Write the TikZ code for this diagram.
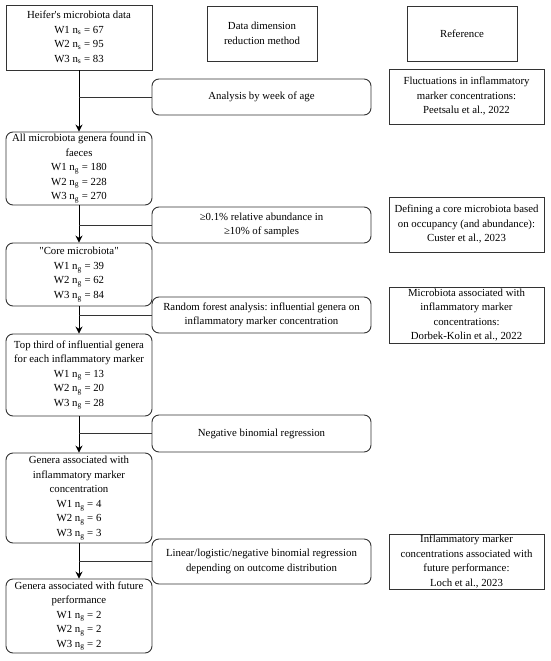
\documentclass[tikz,border=0pt]{standalone}
\usepackage{fontspec}
\setmainfont{Liberation Serif}
\usetikzlibrary{arrows.meta}
\begin{document}
\frenchspacing
\begin{tikzpicture}[x=1pt,y=-1pt,
  every node/.style={font=\fontsize{10.8}{14.5}\selectfont\frenchspacing, align=center, inner sep=0pt},
  sqbox/.style={draw=black!80, line width=0.9pt},
  rbox/.style={draw=black!80, line width=0.9pt, rounded corners=7pt},
  flow/.style={draw=black, line width=0.9pt, -{Stealth[length=7pt,width=7pt]}},
  link/.style={draw=black!80, line width=0.9pt}]
\useasboundingbox (0,0) rectangle (550,661);
% headers
\node[sqbox, minimum width=146pt, minimum height=65pt] (b1) at (79,37.5)
  {Heifer\textquotesingle s microbiota data\\W1 n\textsubscript{s} = 67\\W2 n\textsubscript{s} = 95\\W3 n\textsubscript{s} = 83};
\node[sqbox, minimum width=110pt, minimum height=55pt] (h1) at (262,33.5)
  {Data dimension\\reduction method};
\node[sqbox, minimum width=110pt, minimum height=55pt] (h2) at (462,33.5) {Reference};
% main column
\node[rbox, minimum width=146pt, minimum height=73pt] (b2) at (79,168.5)
  {All microbiota genera found in\\faeces\\W1 n\textsubscript{g} = 180\\W2 n\textsubscript{g} = 228\\W3 n\textsubscript{g} = 270};
\node[rbox, minimum width=146pt, minimum height=63pt] (b3) at (79,274.5)
  {\textquotedbl Core microbiota\textquotedbl\\W1 n\textsubscript{g} = 39\\W2 n\textsubscript{g} = 62\\W3 n\textsubscript{g} = 84};
\node[rbox, minimum width=146pt, minimum height=82pt] (b4) at (79,375)
  {Top third of influential genera\\for each inflammatory marker\\W1 n\textsubscript{g} = 13\\W2 n\textsubscript{g} = 20\\W3 n\textsubscript{g} = 28};
\node[rbox, minimum width=146pt, minimum height=90pt] (b5) at (79,498)
  {Genera associated with\\inflammatory marker\\concentration\\W1 n\textsubscript{g} = 4\\W2 n\textsubscript{g} = 6\\W3 n\textsubscript{g} = 3};
\node[rbox, minimum width=146pt, minimum height=74pt] (b6) at (79,616)
  {Genera associated with future\\performance\\W1 n\textsubscript{g} = 2\\W2 n\textsubscript{g} = 2\\W3 n\textsubscript{g} = 2};
% methods
\node[rbox, minimum width=219pt, minimum height=36pt] (m1) at (261.5,97) {Analysis by week of age};
\node[rbox, minimum width=219pt, minimum height=36pt] (m2) at (261.5,225)
  {≥0.1\% relative abundance in\\≥10\% of samples};
\node[rbox, minimum width=219pt, minimum height=36pt] (m3) at (261.5,315)
  {Random forest analysis: influential genera on\\inflammatory marker concentration};
\node[rbox, minimum width=219pt, minimum height=37pt] (m4) at (261.5,433.5) {Negative binomial regression};
\node[rbox, minimum width=219pt, minimum height=45pt] (m5) at (261.5,561.5)
  {Linear/logistic/negative binomial regression\\depending on outcome distribution};
% references
\node[sqbox, minimum width=155pt, minimum height=55pt] (r1) at (466.5,96.5)
  {Fluctuations in inflammatory\\marker concentrations:\\Peetsalu et al., 2022};
\node[sqbox, minimum width=155pt, minimum height=55pt] (r2) at (466.5,224.5)
  {Defining a core microbiota based\\on occupancy (and abundance):\\Custer et al., 2023};
\node[sqbox, minimum width=155pt, minimum height=56pt] (r3) at (466.5,315)
  {Microbiota associated with\\inflammatory marker\\concentrations:\\Dorbek-Kolin et al., 2022};
\node[sqbox, minimum width=155pt, minimum height=55pt] (r5) at (466.5,561.5)
  {Inflammatory marker\\concentrations associated with\\future performance:\\Loch et al., 2023};
% flow arrows
\draw[flow] (b1.south) -- (b2.north);
\draw[flow] (b2.south) -- (b3.north);
\draw[flow] (b3.south) -- (b4.north);
\draw[flow] (b4.south) -- (b5.north);
\draw[flow] (b5.south) -- (b6.north);
% links
\draw[link] (m1.west) -- (m1.west -| b1.south);
\draw[link] (m2.west) -- (m2.west -| b1.south);
\draw[link] (m3.west) -- (m3.west -| b1.south);
\draw[link] (m4.west) -- (m4.west -| b1.south);
\draw[link] (m5.west) -- (m5.west -| b1.south);
\end{tikzpicture}
\end{document}
